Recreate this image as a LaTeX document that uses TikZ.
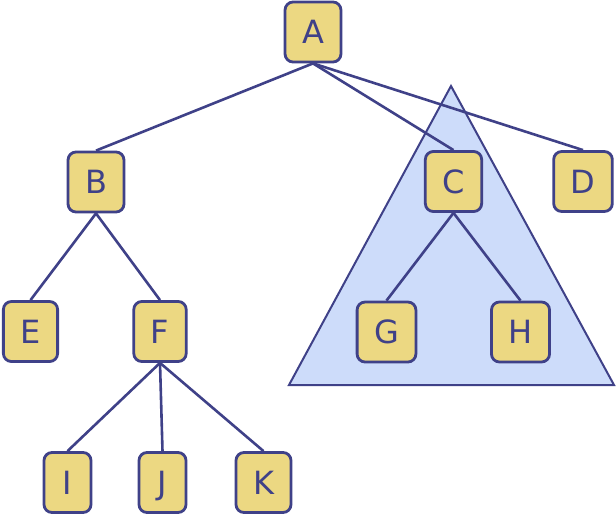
\documentclass[tikz,border=0pt]{standalone}
\usepackage{fontspec}
\setmainfont{DejaVu Sans}
\definecolor{ink}{HTML}{3F4188}
\definecolor{boxfill}{HTML}{ECD882}
\definecolor{trifill}{HTML}{CDDCFA}
\begin{document}
\begin{tikzpicture}[x=1pt,y=-1pt,
  treenode/.style={draw=ink, fill=boxfill, line width=2.8pt, rounded corners=8pt,
    minimum height=60pt, minimum width=47pt, inner xsep=17pt, inner ysep=0pt,
    text=ink, font=\fontsize{32}{38}\selectfont, text height=23pt, text depth=0pt},
  branch/.style={draw=ink, line width=2.6pt},
  subtree/.style={fill=trifill, draw=ink, line width=2pt, line join=miter}]
\useasboundingbox (0,0) rectangle (616,523);

% shaded subtree under C
\draw[subtree] (451,86) -- (289,385) -- (614,385) -- cycle;

% nodes
\node[treenode] (A) at (313,32) {A};
\node[treenode] (B) at (96,182) {B};
\node[treenode] (C) at (453.5,181.5) {C};
\node[treenode] (D) at (583,181.5) {D};
\node[treenode] (E) at (30.5,331.5) {E};
\node[treenode] (F) at (160,331.5) {F};
\node[treenode] (G) at (386.5,332) {G};
\node[treenode] (H) at (520.5,332) {H};
\node[treenode] (I) at (67.5,482.5) {I};
\node[treenode] (J) at (162.5,482.5) {J};
\node[treenode] (K) at (263.5,482.5) {K};

% edges
\draw[branch] (A.south) -- (B.north);
\draw[branch] (A.south) -- (C.north);
\draw[branch] (A.south) -- (D.north);
\draw[branch] (B.south) -- (E.north);
\draw[branch] (B.south) -- (F.north);
\draw[branch] (C.south) -- (G.north);
\draw[branch] (C.south) -- (H.north);
\draw[branch] (F.south) -- (I.north);
\draw[branch] (F.south) -- (J.north);
\draw[branch] (F.south) -- (K.north);
\end{tikzpicture}
\end{document}
